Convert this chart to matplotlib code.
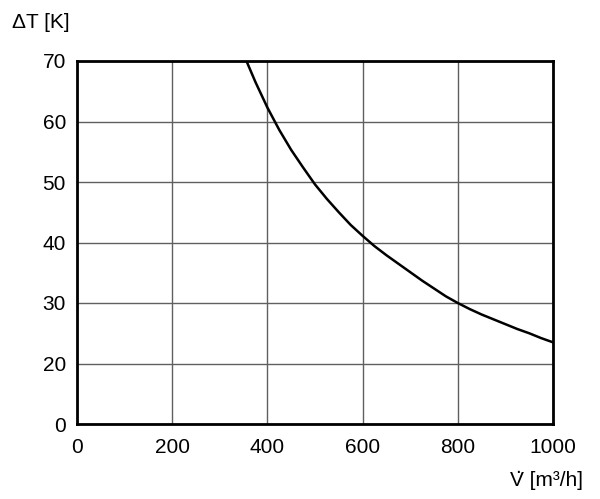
import numpy as np
import matplotlib.pyplot as plt

# values
flow = [356, 375, 400, 425, 450, 475, 500, 525, 550, 575, 600, 625, 650, 675,
        700, 725, 750, 775, 800, 825, 850, 875, 900, 925, 950, 975, 1000]
delta_t = [70, 66.5, 62.3, 58.6, 55.3, 52.4, 49.6, 47.2, 45.0, 42.9, 41.1, 39.4,
           37.9, 36.5, 35.1, 33.7, 32.4, 31.1, 30.0, 29.0, 28.1, 27.3, 26.5,
           25.7, 25.0, 24.2, 23.5]

x_ticks = [0, 200, 400, 600, 800, 1000]
y_ticks = [0, 20, 30, 40, 50, 60, 70]

FONT = ['Liberation Sans Narrow', 'Liberation Sans', 'DejaVu Sans']
plt.rcParams['font.family'] = FONT


# the y axis is squeezed below 20: 0..20 takes one grid cell
def fwd(y):
    y = np.asarray(y, dtype=float)
    return np.where(y < 20, y / 20.0, (y - 10) / 10.0)


def inv(p):
    p = np.asarray(p, dtype=float)
    return np.where(p < 1, p * 20.0, p * 10.0 + 10)


fig = plt.figure(figsize=(6, 4.99), dpi=100)
ax = fig.add_axes([77/600, 1-424/499, 476/600, 363/499])
ax.set_yscale('function', functions=(fwd, inv))

ax.plot(flow, delta_t, color='black', lw=1.8, zorder=3, solid_joinstyle='round')

ax.set_xlim(0, 1000)
ax.set_ylim(0, 70)
ax.set_xticks(x_ticks)
ax.set_yticks(y_ticks)
ax.set_yticks([], minor=True)
ax.set_xticklabels([str(v) for v in x_ticks])
ax.set_yticklabels([str(v) for v in y_ticks])
ax.grid(True, color='#606060', lw=1.0)
ax.tick_params(length=0, labelsize=15, pad=8)
ax.tick_params(axis='x', pad=10)
for s in ax.spines.values():
    s.set_linewidth(2)
    s.set_zorder(4)

fig.text(12/600, 1-23/499, '\u0394T [K]', fontsize=15, va='center', ha='left')
fig.text(583/600, 1-481/499, 'V [m\u00b3/h]', fontsize=15, va='center', ha='right')
fig.text(518/600, 1-473/499, '.', fontsize=15, va='baseline', ha='center')

fig.savefig('out.png', dpi=100)
